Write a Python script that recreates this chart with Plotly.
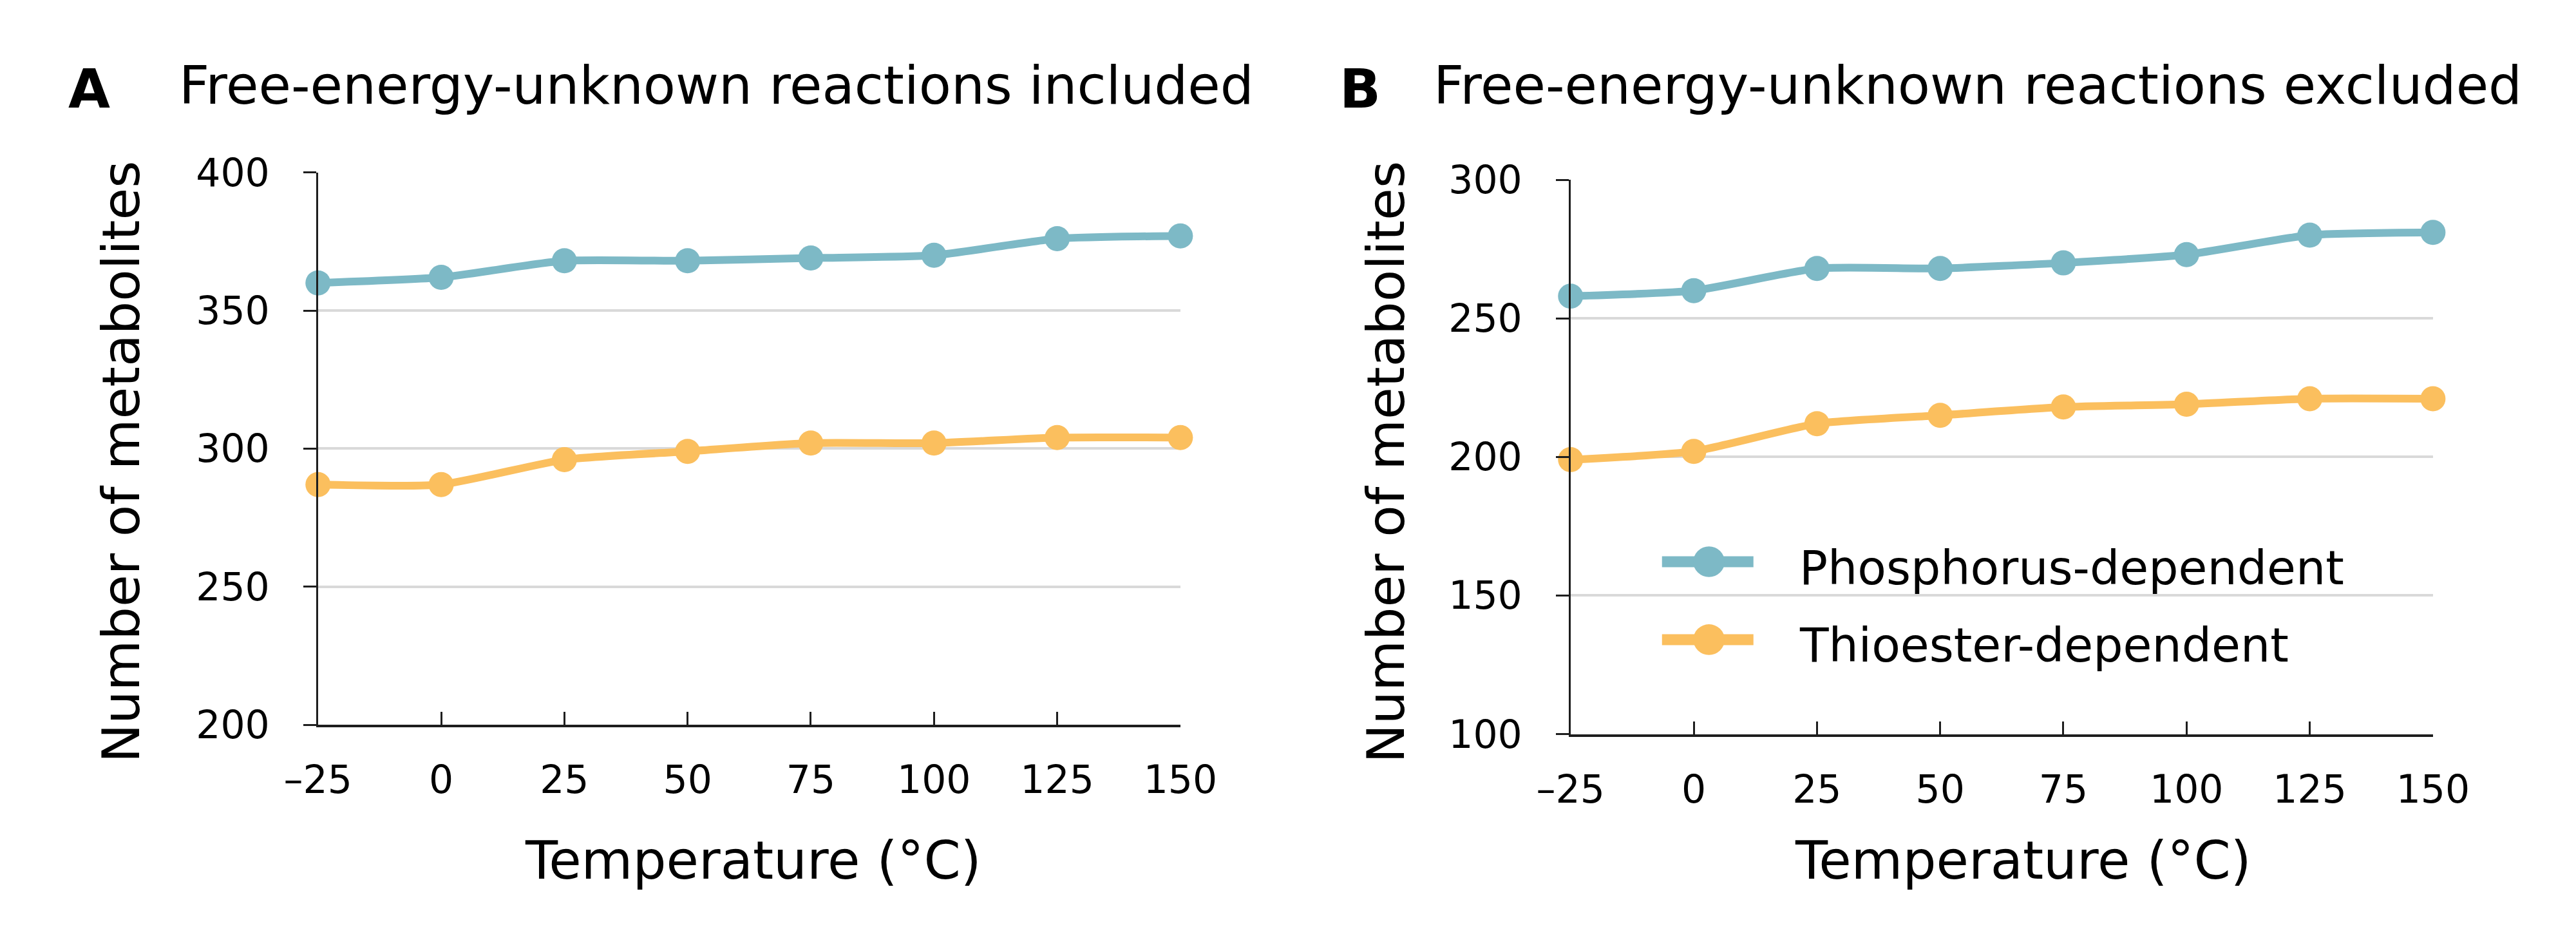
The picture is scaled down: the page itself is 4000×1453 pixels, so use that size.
import plotly.graph_objects as go

# ---------------- data ----------------
temps = [-25, 0, 25, 50, 75, 100, 125, 150]
x_tick_labels = ["\u201325", "0", "25", "50", "75", "100", "125", "150"]
phos_included = [360, 362, 368, 368, 369, 370, 376, 377]
thio_included = [287, 287, 296, 299, 302, 302, 304, 304]
phos_excluded = [258, 260, 268, 268, 270, 273, 280, 281]
thio_excluded = [199, 202, 212, 215, 218, 219, 221, 221]
series_names = ["Phosphorus-dependent", "Thioester-dependent"]
panel_letters = ["A", "B"]
panel_titles = ["Free-energy-unknown reactions included",
                "Free-energy-unknown reactions excluded"]
yticks_A = [200, 250, 300, 350, 400]
yticks_B = [100, 150, 200, 250, 300]
x_title = "Temperature (\u00b0C)"
y_title = "Number of metabolites"

# ---------------- style ----------------
W, H = 4000, 1453
FONT = "DejaVu Sans, Verdana, sans-serif"
BLUE = "#7DB9C6"
ORANGE = "#FBBF5E"
GRID = "#D9D9D9"
AXIS = "#1E1E1E"


def px_x(p):
    return p / W


def px_y(p):
    return 1 - p / H


fig = go.Figure()

panels = [
    ("x", "y", phos_included, thio_included),
    ("x2", "y2", phos_excluded, thio_excluded),
]
for xa, ya, phos, thio in panels:
    for vals, name, col in [(phos, series_names[0], BLUE), (thio, series_names[1], ORANGE)]:
        fig.add_trace(go.Scatter(
            x=temps, y=vals, name=name, xaxis=xa, yaxis=ya,
            mode="lines+markers",
            line=dict(color=col, width=12, shape="spline", smoothing=0.55),
            marker=dict(color=col, size=39),
            cliponaxis=False, showlegend=False,
        ))

common_x = dict(
    range=[-25, 150], tickmode="array", tickvals=temps, ticktext=x_tick_labels,
    showgrid=False, zeroline=False, showline=True, linecolor=AXIS, linewidth=4,
    ticks="inside", ticklen=20, tickwidth=3, tickcolor=AXIS,
    tickfont=dict(family=FONT, size=60, color="black"), ticklabelstandoff=30,
)
common_y = dict(
    showgrid=True, gridcolor=GRID, gridwidth=4, zeroline=False,
    showline=True, linecolor=AXIS, linewidth=3,
    ticks="outside", ticklen=20, tickwidth=3, tickcolor=AXIS,
    tickfont=dict(family=FONT, size=60, color="black"), ticklabelstandoff=40,
)

fig.update_layout(
    width=W, height=H, margin=dict(l=0, r=0, t=0, b=0),
    paper_bgcolor="white", plot_bgcolor="white",
    xaxis=dict(domain=[px_x(445), px_x(1822)], anchor="y", **common_x),
    yaxis=dict(domain=[px_y(1137), px_y(236)], anchor="x", range=[200, 400],
               tickvals=yticks_A, **common_y),
    xaxis2=dict(domain=[px_x(2445), px_x(3822)], anchor="y2", **common_x),
    yaxis2=dict(domain=[px_y(1152), px_y(248)], anchor="x2", range=[100, 300],
                tickvals=yticks_B, **common_y),
    showlegend=False,
)

ann = []
shapes = []
# panel letters and titles
for letter, title, lx, tx in [(panel_letters[0], panel_titles[0], 44, 221),
                              (panel_letters[1], panel_titles[1], 2074, 2224)]:
    ann.append(dict(text="<b>%s</b>" % letter, x=px_x(lx), y=px_y(100), xref="paper", yref="paper",
                    xanchor="left", yanchor="middle", showarrow=False,
                    font=dict(family=FONT, size=84, color="black")))
    ann.append(dict(text=title, x=px_x(tx), y=px_y(94), xref="paper", yref="paper",
                    xanchor="left", yanchor="middle", showarrow=False,
                    font=dict(family=FONT, size=82, color="black")))
# axis titles
for cx in [1140, 3168]:
    ann.append(dict(text=x_title, x=px_x(cx), y=px_y(1358), xref="paper", yref="paper",
                    xanchor="center", yanchor="middle", showarrow=False,
                    font=dict(family=FONT, size=82, color="black")))
for cx in [130, 2150]:
    ann.append(dict(text=y_title, x=px_x(cx), y=px_y(708), xref="paper", yref="paper",
                    xanchor="center", yanchor="middle", showarrow=False, textangle=-90,
                    font=dict(family=FONT, size=81, color="black")))

# legend (panel B): line sample + circle marker + label
for name, col, ly, ty in [(series_names[0], BLUE, 871, 881), (series_names[1], ORANGE, 998, 1007)]:
    shapes.append(dict(type="line", xref="paper", yref="paper",
                       x0=px_x(2591), x1=px_x(2737), y0=px_y(ly), y1=px_y(ly),
                       line=dict(color=col, width=17)))
    shapes.append(dict(type="circle", xref="paper", yref="paper",
                       x0=px_x(2666 - 25), x1=px_x(2666 + 25), y0=px_y(ly - 25), y1=px_y(ly + 25),
                       fillcolor=col, line=dict(width=0)))
    ann.append(dict(text=name, x=px_x(2808), y=px_y(ty), xref="paper", yref="paper",
                    xanchor="left", yanchor="middle", showarrow=False,
                    font=dict(family=FONT, size=73, color="black")))

fig.update_layout(annotations=ann, shapes=shapes)

fig.write_html("out.html")
